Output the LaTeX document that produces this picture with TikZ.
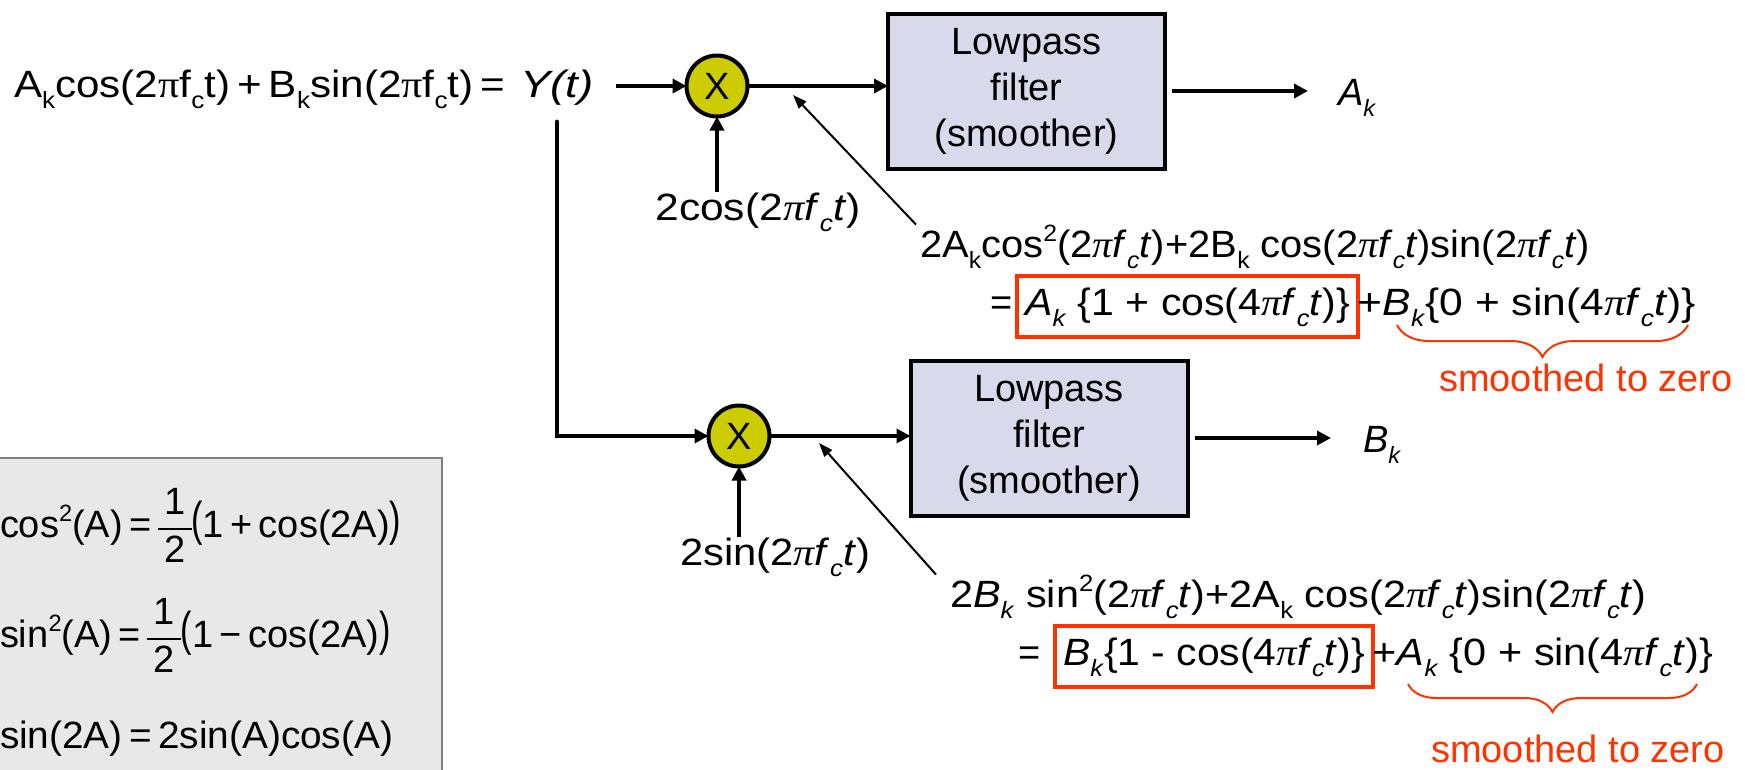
\documentclass[tikz,border=0pt]{standalone}
\usepackage{fontspec}
\usepackage{graphicx}
\setmainfont{Liberation Sans}
\newfontfamily\serifpi{Liberation Serif}
\usetikzlibrary{arrows.meta,decorations.pathreplacing,calc}
\definecolor{boxfill}{RGB}{217,217,236}
\definecolor{multfill}{RGB}{204,204,0}
\definecolor{redline}{RGB}{255,51,0}
\definecolor{idfill}{RGB}{232,232,232}
\definecolor{idline}{RGB}{128,128,128}
\newcommand{\fs}{\fontsize{38pt}{46pt}\selectfont}
\newcommand{\sbs}[1]{\raisebox{-0.3em}{\scalebox{0.62}{#1}}}
\newcommand{\sps}[1]{\raisebox{0.42em}{\scalebox{0.62}{#1}}}
\newcommand{\ipi}{{\serifpi\itshape π}}
\newcommand{\upi}{{\serifpi π}}
\newcommand{\fct}{\textit{f}\sbs{\textit{c}}\textit{t}}
\newcommand{\xs}[2]{\scalebox{#1}[1]{#2}}
\newcommand{\bigp}[1]{\raisebox{0.05em}{\scalebox{0.9}[1.25]{#1}}}
\newcommand{\half}{\raisebox{0.6em}{\setlength{\arrayrulewidth}{1.8pt}\begin{tabular}[t]{@{\,}c@{\,}}1\\\hline 2\end{tabular}}}
\tikzset{
  every node/.style={font=\fs, inner sep=0pt, outer sep=0pt},
  filterbox/.style={draw, line width=4pt, fill=boxfill, minimum width=277pt, minimum height=155pt, align=center},
  mult/.style={circle, draw, line width=4pt, fill=multfill, minimum size=61pt},
  flow/.style={line width=4.5pt, -{Triangle[length=14pt,width=14pt]}},
  pointer/.style={line width=2pt, -{Triangle[length=14pt,width=10pt]}},
  redbox/.style={draw=redline, line width=4pt, inner xsep=8pt, inner ysep=10.5pt, text height=29pt, text depth=11pt},
  redbrace/.style={draw=redline, line width=2pt, decorate, decoration={brace, mirror, amplitude=#1}},
  redtext/.style={text=redline},
  idbox/.style={draw=idline, line width=2pt, fill=idfill}
}
\begin{document}
\begin{tikzpicture}[x=1pt,y=-1pt]
\useasboundingbox (0,0) rectangle (1745,769);

% identities box
\draw[idbox] (-10,458) rectangle (442,790);
\node[anchor=base west] (id1) at (0,537) {cos\sps{2}(A)\,=\,\half\bigp{(}1\,+\,cos(2A)\bigp{)}};
\node[anchor=base west] (id2) at (0,647) {sin\sps{2}(A)\,=\,\half\bigp{(}1\,−\,cos(2A)\bigp{)}};
\node[anchor=base west] (id3) at (0,748) {\xs{1.02}{sin(2A)\,=\,2sin(A)cos(A)}};

% input
\node[anchor=base west] (eq) at (14,97) {\xs{1.11}{A\sbs{k}cos(2\upi f\sbs{c}t)\,+\,B\sbs{k}sin(2\upi f\sbs{c}t)\,=}};
\node[anchor=base] (Y) at (557,97) {\xs{1.2}{\textit{Y(t)}}};

% multipliers and filters
\node[mult] (m1) at (717,86) {X};
\node[mult] (m2) at (739,436) {X};
\node[filterbox] (f1) at (1026.5,91) {Lowpass\\filter\\(smoother)};
\node[filterbox] (f2) at (1049,438) {Lowpass\\filter\\(smoother)};

% outputs
\node[anchor=base west] (A) at (1338,105) {\textit{A}\sbs{\textit{k}}};
\node[anchor=base west] (B) at (1363,452) {\textit{B}\sbs{\textit{k}}};
\coordinate (oA) at (1308,91);
\coordinate (oB) at (1331,438);

% carriers
\node[anchor=base] (c1) at (758,220) {\xs{1.12}{2cos(2\ipi\fct)}};
\node[anchor=base] (c2) at (775,565) {\xs{1.1}{2sin(2\ipi\fct)}};

% connectors
\draw[flow, shorten <=22pt] (Y.east |- m1) -- (m1.west);
\draw[flow, shorten <=17pt, line cap=round] (Y.south) |- (m2.west);
\draw[flow] (m1.east) -- (m1.east -| f1.west);
\draw[flow] (m2.east) -- (m2.east -| f2.west);
\draw[flow, shorten <=7pt] (f1.east) -- (oA);
\draw[flow, shorten <=7pt] (f2.east) -- (oB);
\draw[flow] (c1.north -| m1) -- (m1.south);
\draw[flow] (c2.north -| m2) -- (m2.south);

% upper product expression
\node[anchor=base west] (e1) at (920,257) {\xs{1.05}{2A\sbs{k}cos\sps{2}(2\ipi\fct)+2B\sbs{k} cos(2\ipi\fct)sin(2\ipi\fct)}};
\node[anchor=base west] (e2a) at (990,315) {=};
\node[redbox, anchor=base west] (e2b) at ([xshift=5pt]e2a.base east) {\xs{1.08}{\textit{A}\sbs{\textit{k}} \{1 + cos(4\ipi\fct)\}}};
\node[anchor=base west] (e2c) at (e2b.base east) {\xs{1.12}{+\textit{B}\sbs{\textit{k}}\{0 + sin(4\ipi\fct)\}}};
\coordinate (d1) at (793,95);
\draw[pointer] ([xshift=-4pt]e1.north west) -- (d1);
\coordinate (bA1) at (1397,325);
\coordinate (bA2) at (1688,325);
\draw[redbrace=32pt] (bA1) -- (bA2);
\node[redtext, anchor=base] (s1) at (1586,391) {smoothed to zero};

% lower product expression
\node[anchor=base west] (e3) at (950,607) {\xs{1.09}{2\textit{B}\sbs{\textit{k}} sin\sps{2}(2\ipi\fct)+2A\sbs{k} cos(2\ipi\fct)sin(2\ipi\fct)}};
\node[anchor=base west] (e4a) at (1018,665) {=};
\node[redbox, anchor=base west] (e4b) at ([xshift=15pt]e4a.base east) {\xs{1.075}{\textit{B}\sbs{\textit{k}}\{1 - cos(4\ipi\fct)\}}};
\node[anchor=base west] (e4c) at (e4b.base east) {\xs{1.09}{+\textit{A}\sbs{\textit{k}} \{0 + sin(4\ipi\fct)\}}};
\coordinate (d2) at (819,443);
\draw[pointer] ([xshift=-14pt]e3.north west) -- (d2);
\coordinate (bB1) at (1408,684);
\coordinate (bB2) at (1697,684);
\draw[redbrace=28pt] (bB1) -- (bB2);
\node[redtext, anchor=base] (s2) at (1578,762) {smoothed to zero};
\end{tikzpicture}
\end{document}
